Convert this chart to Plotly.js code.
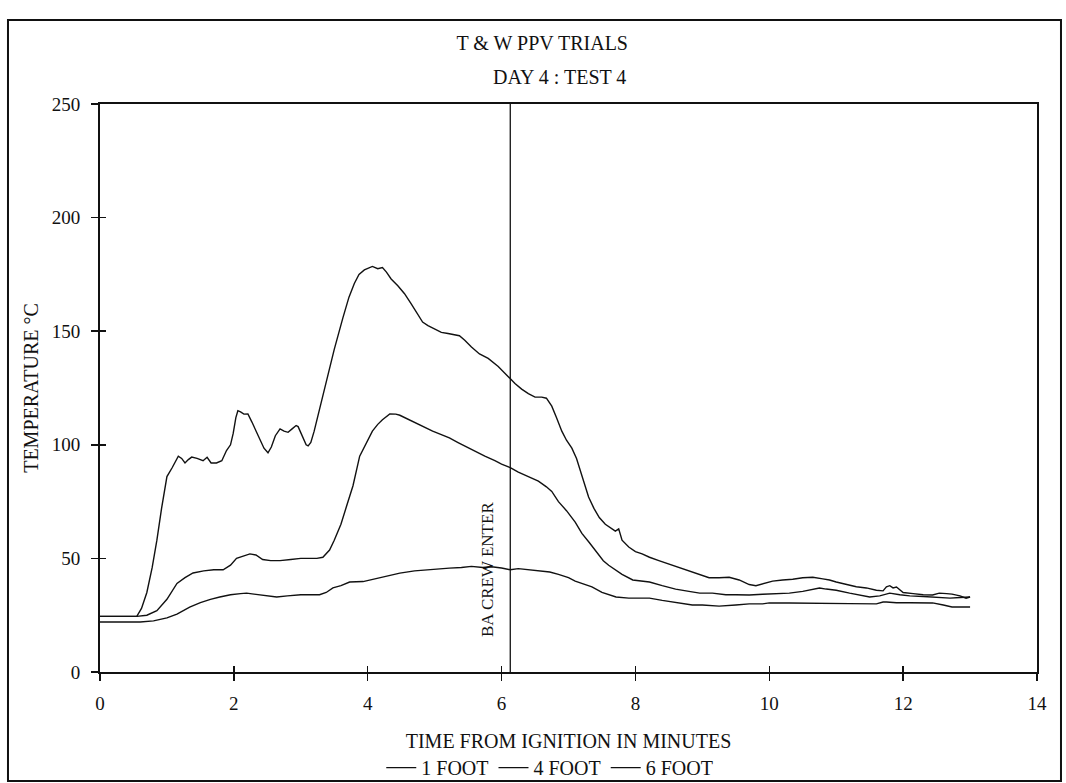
<!DOCTYPE html>
<html>
<head>
<meta charset="utf-8">
<script src="https://cdn.plot.ly/plotly-3.0.1.min.js"></script>
<style>html,body{margin:0;padding:0;background:#fff;}#chart{width:1066px;height:783px;}</style>
</head>
<body>
<div id="chart"></div>
<script>
// ---- data ----
const seriesNames = ["1 FOOT", "4 FOOT", "6 FOOT"];

const time1 = [0, 0.3, 0.55, 0.62, 0.7, 0.78, 0.85, 0.92, 1.0, 1.08, 1.17, 1.22, 1.27, 1.32, 1.37, 1.45, 1.54, 1.6, 1.66, 1.74, 1.82, 1.89, 1.95, 1.99, 2.03, 2.06, 2.1, 2.15, 2.21, 2.27, 2.33, 2.39, 2.45, 2.51, 2.56, 2.62, 2.69, 2.75, 2.81, 2.87, 2.93, 2.96, 3.02, 3.08, 3.11, 3.15, 3.2, 3.3, 3.39, 3.5, 3.63, 3.72, 3.8, 3.87, 3.95, 4.0, 4.07, 4.15, 4.22, 4.28, 4.35, 4.45, 4.55, 4.65, 4.75, 4.82, 4.9, 5.0, 5.1, 5.2, 5.37, 5.45, 5.55, 5.67, 5.8, 5.95, 6.05, 6.13, 6.2, 6.3, 6.4, 6.5, 6.6, 6.67, 6.75, 6.82, 6.9, 6.97, 7.05, 7.12, 7.2, 7.3, 7.38, 7.46, 7.55, 7.62, 7.7, 7.75, 7.8, 7.9, 8.0, 8.1, 8.21, 8.35, 8.5, 8.7, 8.85, 8.96, 9.1, 9.25, 9.4, 9.55, 9.7, 9.8, 9.9, 10.05, 10.2, 10.35, 10.5, 10.65, 10.8, 10.9, 11.0, 11.15, 11.3, 11.45, 11.6, 11.7, 11.75, 11.8, 11.85, 11.9, 11.95, 12.0, 12.15, 12.3, 12.44, 12.54, 12.65, 12.73, 12.85, 12.94, 13.0];
const temp1 = [24.5, 24.5, 24.5, 28, 35, 46, 58, 72, 86, 90, 95, 94, 92, 93.5, 94.6, 94, 93, 94.5, 92, 92, 93, 97.5, 100, 105, 112, 115, 114.5, 113.5, 113.6, 110, 106, 102, 98.5, 96.5, 99, 104, 107, 106, 105.5, 107, 108.5, 108, 104, 100, 99.5, 101, 106, 118, 128, 142, 156, 165, 171, 175, 177, 177.5, 178.5, 177.5, 178, 176, 173, 170, 166.5, 162, 157, 154, 152.5, 151, 149.5, 149, 148, 146, 143, 140, 138, 134.5, 131.5, 129, 127, 124.5, 122.5, 121, 121, 120.5, 117, 112, 106, 102, 98.5, 94, 86, 77, 72, 68, 65, 63.5, 62, 63, 58, 55, 53, 52, 50.5, 49, 47.5, 45.5, 44, 43, 41.5, 41.5, 41.7, 40.5, 38.5, 38, 38.8, 40, 40.5, 40.8, 41.5, 41.7, 41, 40.5, 39.6, 38.5, 37.5, 37, 36, 35.7, 37.5, 38, 37, 37.4, 36, 35, 34.5, 34, 33.9, 34.7, 34.5, 34.3, 33.5, 32.5, 33];

const time4 = [0, 0.3, 0.55, 0.7, 0.85, 1.0, 1.15, 1.27, 1.39, 1.55, 1.7, 1.84, 1.95, 2.04, 2.14, 2.24, 2.33, 2.43, 2.55, 2.69, 2.85, 3.0, 3.15, 3.24, 3.33, 3.43, 3.5, 3.6, 3.68, 3.78, 3.88, 3.98, 4.07, 4.15, 4.22, 4.33, 4.42, 4.48, 4.55, 4.65, 4.75, 4.85, 4.97, 5.1, 5.22, 5.35, 5.48, 5.6, 5.75, 5.9, 6.0, 6.13, 6.25, 6.4, 6.55, 6.67, 6.75, 6.85, 6.97, 7.1, 7.2, 7.31, 7.42, 7.52, 7.6, 7.7, 7.8, 7.96, 8.1, 8.21, 8.4, 8.6, 8.8, 8.96, 9.15, 9.35, 9.5, 9.7, 9.9, 10.1, 10.3, 10.5, 10.65, 10.75, 10.85, 11.0, 11.2, 11.35, 11.5, 11.65, 11.8, 11.95, 12.1, 12.3, 12.44, 12.6, 12.7, 12.85, 12.96, 13.0];
const temp4 = [24.5, 24.5, 24.5, 25, 27, 32, 39, 41.5, 43.6, 44.5, 45, 45, 47, 50, 51, 52, 51.5, 49.5, 49, 49, 49.5, 50, 50, 50, 50.5, 53.7, 58, 65, 72.6, 82, 95, 101, 106, 109, 111, 113.6, 113.5, 113, 112, 110.5, 109, 107.5, 106, 104.5, 103, 101, 99, 97, 95, 93, 91.5, 90, 88, 86, 84, 81.5, 79.5, 75, 71, 66, 61, 57, 53, 49, 47, 45, 43, 40.5, 40, 39.6, 38, 36.5, 35.5, 34.7, 34.7, 34, 34, 33.9, 34.2, 34.5, 34.7, 35.5, 36.5, 37, 36.5, 36, 34.7, 34, 33, 33.5, 34.7, 34, 33.5, 33.2, 33, 32.8, 32.5, 32.8, 33, 33];

const time6 = [0, 0.3, 0.6, 0.8, 1.0, 1.15, 1.34, 1.5, 1.65, 1.79, 1.95, 2.1, 2.19, 2.3, 2.45, 2.64, 2.8, 3.0, 3.15, 3.28, 3.38, 3.48, 3.6, 3.73, 3.93, 4.1, 4.3, 4.48, 4.7, 4.9, 5.05, 5.22, 5.4, 5.55, 5.72, 5.85, 6.0, 6.13, 6.25, 6.4, 6.55, 6.72, 6.85, 7.0, 7.1, 7.21, 7.35, 7.5, 7.71, 7.9, 8.05, 8.21, 8.4, 8.6, 8.85, 9.0, 9.25, 9.5, 9.7, 9.9, 10.0, 10.3, 10.6, 10.9, 11.2, 11.6, 11.7, 11.75, 11.9, 12.1, 12.3, 12.44, 12.6, 12.73, 12.85, 13.0];
const temp6 = [22, 22, 22, 22.5, 23.8, 25.5, 28.6, 30.5, 32, 33, 34, 34.5, 34.7, 34.3, 33.8, 33, 33.5, 34, 34, 34, 35, 37, 38, 39.6, 39.8, 41, 42.5, 43.5, 44.5, 45, 45.5, 45.7, 46, 46.5, 46, 46.3, 45.8, 45, 45.5, 45, 44.8, 44, 43, 41.5, 40, 39, 37.5, 35, 33, 32.5, 32.5, 32.5, 31.5, 30.5, 29.5, 29.5, 29, 29.5, 30, 30, 30.4, 30.4, 30.4, 30.2, 30.1, 30, 30.8, 30.8, 30.5, 30.5, 30.4, 30.4, 29.5, 28.6, 28.6, 28.6];

const crewEnterTime = 6.13;
const crewEnterLabel = "BA CREW ENTER";
const mainTitle = "T & W PPV TRIALS";
const subTitle = "DAY 4 : TEST 4";
const xTicks = [0, 2, 4, 6, 8, 10, 12, 14];
const yTicks = [0, 50, 100, 150, 200, 250];

// ---- styling ----
const FONT = "Liberation Serif, Times New Roman, serif";
const lineStyle = {color: "#111", width: 1.4};

const traces = [
  {x: time1, y: temp1, name: seriesNames[0], type: "scatter", mode: "lines", line: lineStyle},
  {x: time4, y: temp4, name: seriesNames[1], type: "scatter", mode: "lines", line: lineStyle},
  {x: time6, y: temp6, name: seriesNames[2], type: "scatter", mode: "lines", line: lineStyle}
];

const layout = {
  width: 1066, height: 783,
  margin: {l: 100, r: 29, t: 104, b: 111, autoexpand: false},
  paper_bgcolor: "#fff", plot_bgcolor: "#fff",
  font: {family: FONT, color: "#111", size: 18},
  showlegend: true,
  title: {
    text: mainTitle,
    font: {family: FONT, size: 20, color: "#111"},
    xref: "paper", x: 0.5635, xanchor: "right",
    yref: "container", y: 1 - 43/783, yanchor: "middle"
  },
  xaxis: {
    range: [0, 14], tickvals: xTicks, ticktext: xTicks.map(String),
    showline: true, linecolor: "#111", linewidth: 2, mirror: true,
    ticks: "outside", ticklen: 7, tickwidth: 1.5, tickcolor: "#111",
    ticklabelstandoff: 6,
    showgrid: false, zeroline: false,
    tickfont: {family: FONT, size: 19},
    title: {text: "TIME FROM IGNITION IN MINUTES", font: {family: FONT, size: 20}, standoff: 21}
  },
  yaxis: {
    range: [0, 250], tickvals: yTicks, ticktext: yTicks.map(String),
    showline: true, linecolor: "#111", linewidth: 2, mirror: true,
    ticks: "outside", ticklen: 7, tickwidth: 1.5, tickcolor: "#111",
    ticklabelstandoff: 7,
    showgrid: false, zeroline: false,
    tickfont: {family: FONT, size: 19},
    title: {text: "TEMPERATURE °C", font: {family: FONT, size: 20}, standoff: 8}
  },
  xaxis2: {
    overlaying: "x", anchor: "y", range: [0, 14], tickvals: xTicks,
    ticks: "inside", ticklen: 6, tickwidth: 1.5, tickcolor: "#111",
    showticklabels: false, showline: false, showgrid: false, zeroline: false
  },
  yaxis2: {
    overlaying: "y", anchor: "x", range: [0, 250], tickvals: yTicks,
    ticks: "inside", ticklen: 6, tickwidth: 1.5, tickcolor: "#111",
    showticklabels: false, showline: false, showgrid: false, zeroline: false
  },
  legend: {
    orientation: "h", x: 0.48, xanchor: "center", y: -0.134, yanchor: "top",
    font: {family: FONT, size: 20, color: "#111"},
    itemwidth: 30, tracegroupgap: 0, bgcolor: "rgba(0,0,0,0)"
  },
  shapes: [
    {type: "line", xref: "x", yref: "y", x0: crewEnterTime, x1: crewEnterTime, y0: 0, y1: 250,
     line: {color: "#111", width: 1.3}},
    {type: "rect", xref: "paper", yref: "paper", x0: -0.0982, x1: 1.0256, y0: -0.1919, y1: 1.1479,
     line: {color: "#111", width: 2}}
  ],
  annotations: [
    {text: subTitle, xref: "paper", yref: "paper", x: 0.5635, y: 1.0475,
     xanchor: "right", yanchor: "middle", showarrow: false,
     font: {family: FONT, size: 20, color: "#111"}},
    {text: crewEnterLabel, xref: "x", yref: "y", x: crewEnterTime, y: 45, xshift: -23,
     xanchor: "center", yanchor: "middle", textangle: -90, showarrow: false,
     font: {family: FONT, size: 17, color: "#111"}}
  ]
};

// invisible helper trace so the overlay axes (crossing tick marks) are drawn
traces.push({x: [0], y: [0], xaxis: "x2", yaxis: "y2", mode: "markers", marker: {opacity: 0}, showlegend: false, hoverinfo: "skip"});

Plotly.newPlot("chart", traces, layout, {displayModeBar: false, staticPlot: true});
</script>
</body>
</html>
